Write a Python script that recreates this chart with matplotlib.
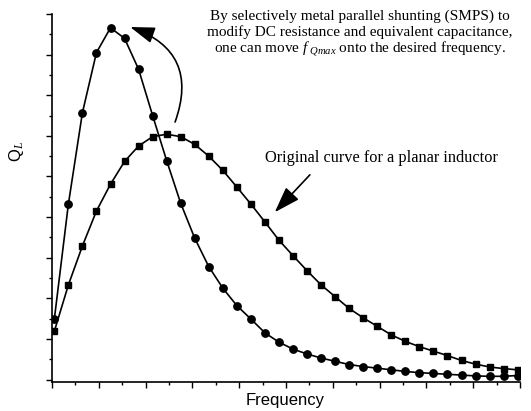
import matplotlib
matplotlib.use("Agg")
import matplotlib.pyplot as plt
from matplotlib.ticker import MultipleLocator, NullFormatter

plt.rcParams["mathtext.fontset"] = "custom"
plt.rcParams["mathtext.rm"] = "Liberation Serif"
plt.rcParams["mathtext.it"] = "Liberation Serif:italic"

# sampled frequency points (arbitrary units, axis 0..10)
freq = [0.05, 0.35, 0.65, 0.95, 1.25, 1.55, 1.85, 2.15, 2.45, 2.75, 3.05, 3.35,
        3.65, 3.95, 4.25, 4.55, 4.85, 5.15, 5.45, 5.75, 6.05, 6.35, 6.65, 6.95,
        7.25, 7.55, 7.85, 8.15, 8.45, 8.75, 9.05, 9.35, 9.65, 9.95]

# Q_L after selective metal parallel shunting (circles)
q_smps = [1.49, 4.32, 6.57, 8.05, 8.66, 8.40, 7.64, 6.50, 5.39, 4.34, 3.48, 2.78,
          2.25, 1.82, 1.49, 1.15, 0.92, 0.75, 0.63, 0.53, 0.45, 0.37, 0.32, 0.28,
          0.24, 0.20, 0.17, 0.15, 0.13, 0.11, 0.09, 0.08, 0.08, 0.10]

# Q_L of the original planar inductor (squares)
q_orig = [1.19, 2.33, 3.29, 4.15, 4.81, 5.37, 5.75, 5.98, 6.04, 5.98, 5.79, 5.50,
          5.15, 4.74, 4.32, 3.88, 3.43, 3.05, 2.68, 2.33, 2.04, 1.75, 1.52, 1.31,
          1.10, 0.94, 0.81, 0.70, 0.59, 0.47, 0.38, 0.31, 0.27, 0.24]

note_lines = ["By selectively metal parallel shunting (SMPS) to",
              "modify DC resistance and equivalent capacitance,",
              r"one can move $f_{\ Qmax}$ onto the desired frequency."]
orig_note = "Original curve for a planar inductor"

fig = plt.figure(figsize=(5.31, 4.11), dpi=100)
ax = fig.add_axes([52 / 531, 29 / 411, 468 / 531, 368 / 411])

ax.plot(freq, q_orig, color="black", lw=1.2, marker="s", ms=4.8, zorder=3)
ax.plot(freq, q_smps, color="black", lw=1.2, marker="o", ms=5.3, zorder=3)

ax.set_xlim(0, 10)
ax.set_ylim(-0.06, 9)
ax.xaxis.set_major_locator(MultipleLocator(1))
ax.xaxis.set_minor_locator(MultipleLocator(0.5))
ax.yaxis.set_major_locator(MultipleLocator(1))
ax.yaxis.set_minor_locator(MultipleLocator(0.5))
ax.xaxis.set_major_formatter(NullFormatter())
ax.yaxis.set_major_formatter(NullFormatter())
ax.tick_params(which="major", direction="out", length=4, width=1)
ax.tick_params(which="minor", direction="out", length=2, width=1)
for side in ["top", "right"]:
    ax.spines[side].set_visible(False)
for side in ["left", "bottom"]:
    ax.spines[side].set_linewidth(1.2)

fig.text(285 / 531, 1 - 400 / 411, "Frequency", family="Liberation Sans",
         fontsize=12, ha="center", va="center")
fig.text(17 / 531, 1 - 152 / 411, r"Q$_L$", family="Liberation Sans",
         fontsize=12, rotation=90, ha="center", va="center")

for k, line in enumerate(note_lines):
    fig.text(360 / 531, 1 - (16 + 16.5 * k) / 411, line, family="Liberation Serif",
             fontsize=11, ha="center", va="center")
fig.text(381 / 531, 1 - 158 / 411, orig_note, family="Liberation Serif",
         fontsize=11.8, ha="center", va="center")

# curved arrow: peak moved to the left
ax.annotate("", xy=(1.67, 8.68), xytext=(2.63, 6.34),
            arrowprops=dict(arrowstyle="-|>,head_length=0.75,head_width=0.25",
                            connectionstyle="arc3,rad=0.5", color="black",
                            lw=1.2, mutation_scale=20, shrinkA=0, shrinkB=0))
# straight arrow to the original curve
ax.annotate("", xy=(4.76, 4.12), xytext=(5.51, 5.04),
            arrowprops=dict(arrowstyle="-|>,head_length=0.8,head_width=0.27",
                            color="black", lw=1.2, mutation_scale=20,
                            shrinkA=0, shrinkB=0))

fig.savefig("out.png", dpi=100)
